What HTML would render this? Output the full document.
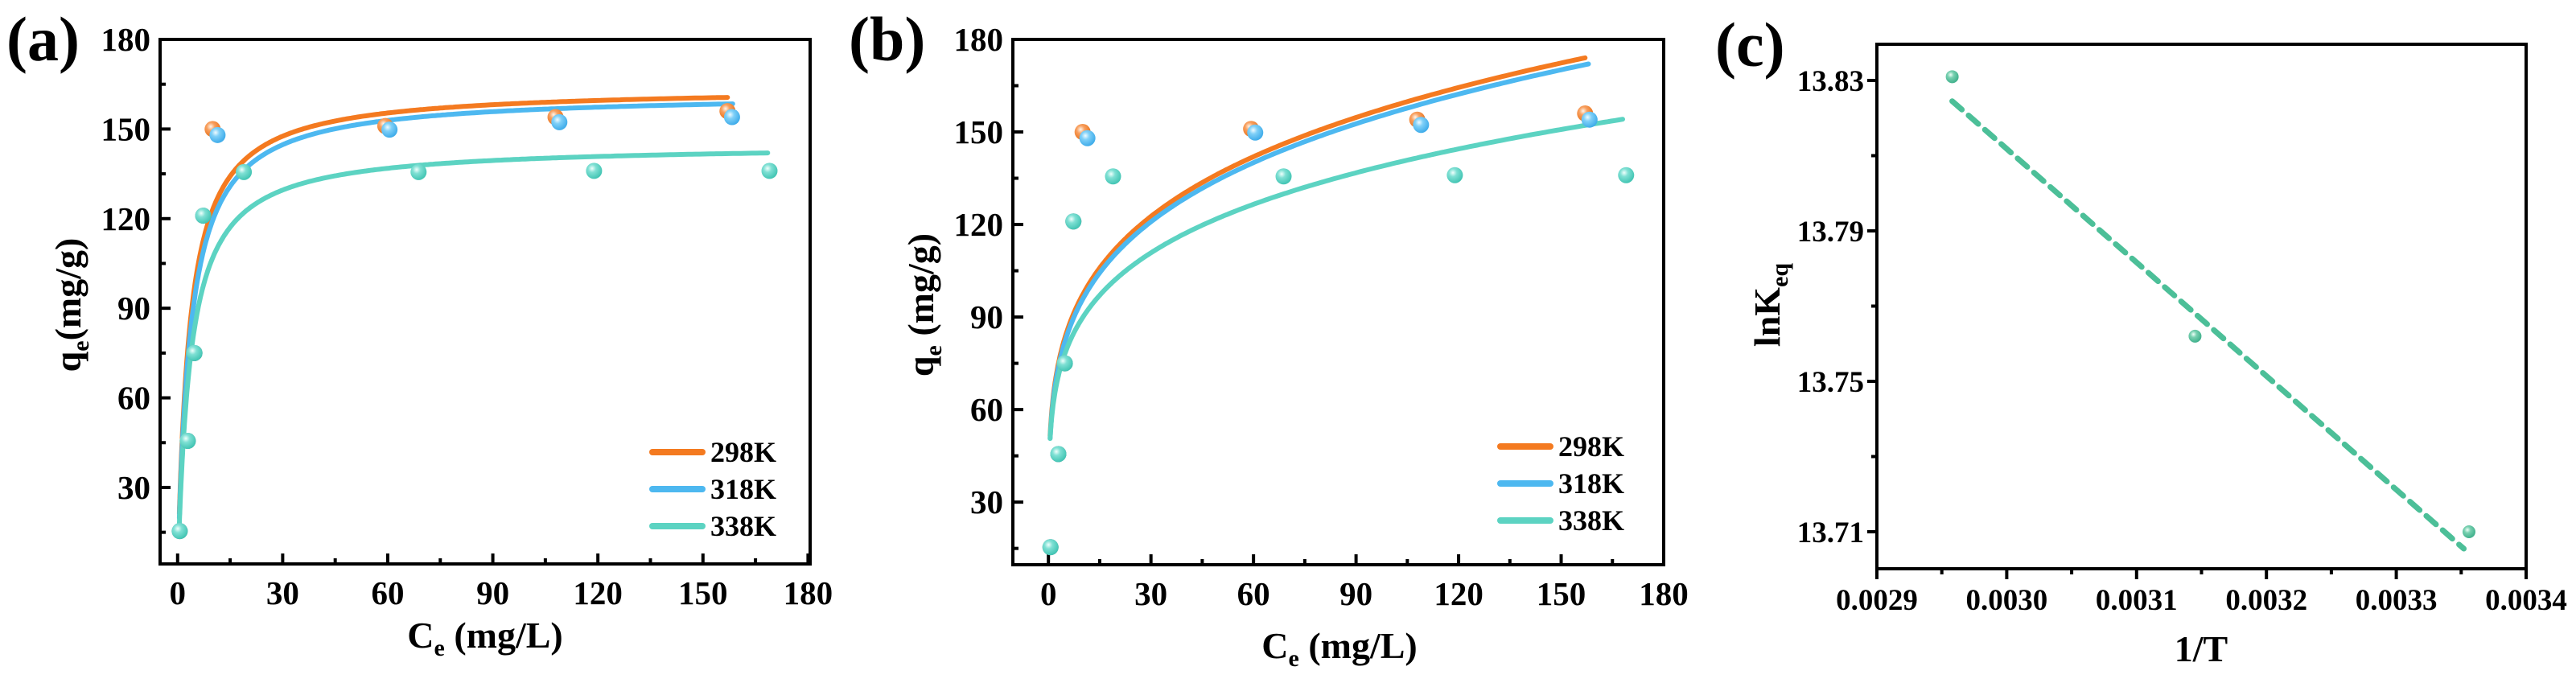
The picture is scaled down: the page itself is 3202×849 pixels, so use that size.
<!DOCTYPE html>
<html><head><meta charset="utf-8"><style>
html,body{margin:0;padding:0;background:#fff;}
svg{display:block;}
svg text{font-family:"Liberation Serif","Times New Roman",serif;font-weight:bold;}
</style></head><body>
<svg id="fig" width="3202" height="849" viewBox="0 0 3202 849" xmlns="http://www.w3.org/2000/svg" font-family="Liberation Serif, serif" font-weight="bold">
<defs>
<radialGradient id="gO" cx="0.38" cy="0.35" r="0.7"><stop offset="0" stop-color="#fff6ec"/><stop offset="0.35" stop-color="#f8a060"/><stop offset="1" stop-color="#e86c10"/></radialGradient>
<radialGradient id="gB" cx="0.38" cy="0.35" r="0.7"><stop offset="0" stop-color="#f0fbff"/><stop offset="0.35" stop-color="#7fd0f8"/><stop offset="1" stop-color="#38a8e8"/></radialGradient>
<radialGradient id="gT" cx="0.38" cy="0.35" r="0.7"><stop offset="0" stop-color="#f0fffc"/><stop offset="0.35" stop-color="#7fe0d4"/><stop offset="1" stop-color="#3cc2b0"/></radialGradient>
<radialGradient id="gG" cx="0.38" cy="0.35" r="0.7"><stop offset="0" stop-color="#effff8"/><stop offset="0.35" stop-color="#78d0b0"/><stop offset="1" stop-color="#3aad88"/></radialGradient>
</defs>
</svg>
<script>
// ---- data ----
const seriesNames = ['298K','318K','338K'];
const ceK298 = [0.6, 2.9, 4.8, 7.3, 10.0, 59.3, 107.9, 157.0];
const qeK298 = [15.4, 45.6, 75, 121, 150, 151, 154, 156];
const ceK318 = [0.6, 2.9, 4.8, 7.3, 11.4, 60.5, 109.0, 158.3];
const qeK318 = [15.4, 45.6, 75, 121, 148, 149.8, 152.3, 154];
const ceK338 = [0.6, 2.9, 4.8, 7.3, 18.9, 68.8, 118.9, 169.0];
const qeK338 = [15.4, 45.6, 75, 121, 135.6, 135.6, 136, 136];
// Langmuir fit parameters (panel a)
const langQm = [164, 162, 145];
const langKL = [0.30, 0.28, 0.28];
const langEnd = [157, 158.5, 168.5];
// Freundlich fit parameters (panel b)
const freKf = [59.7, 58.7, 57.8];
const freN1 = [0.2116, 0.2124, 0.1914];
const freEnd = [157, 158, 168];
const xTicksAB = [0, 30, 60, 90, 120, 150, 180];
const yTicksAB = [30, 60, 90, 120, 150, 180];
// panel c
const invT = [0.002958, 0.003145, 0.003356];
const lnKeq = [13.831, 13.762, 13.710];
const fitX = [0.002958, 0.003352];
const fitY = [13.8245, 13.7055];
const xTicksC = ['0.0029','0.0030','0.0031','0.0032','0.0033','0.0034'];
const yTicksC = ['13.71','13.75','13.79','13.83'];

const colors = ['#f47a20','#4db8f0','#5cd3c2'];
const grads = ['url(#gO)','url(#gB)','url(#gT)'];
const svg = document.getElementById('fig');
const NS = 'http://www.w3.org/2000/svg';
function mk(tag, attrs, parent){const e=document.createElementNS(NS,tag);for(const k in attrs)e.setAttribute(k,attrs[k]);(parent||svg).appendChild(e);return e;}
function txt(s, attrs, parent){const e=mk('text',attrs,parent);e.textContent=s;return e;}

function lin(d0,d1,p0,p1){return v=>p0+(v-d0)*(p1-p0)/(d1-d0);}

function panel(cfg){
  const g=mk('g',{});
  
  
  const X=lin(cfg.xmin,cfg.xmax,cfg.L,cfg.R), Y=lin(cfg.ymin,cfg.ymax,cfg.B,cfg.T);
  const fr=mk('rect',{x:cfg.L,y:cfg.T,width:cfg.R-cfg.L,height:cfg.B-cfg.T,fill:'none',stroke:'#000','stroke-width':4},g);
  
  
  return {g,X,Y};
}

function abPanel(cfg, curveFn, ends, params){
  const {g,X,Y}=panel(cfg);
  xTicksAB.forEach((v,i)=>{
    const x=X(v);
    const t=mk('line',{x1:x,x2:x,y1:cfg.B,y2:cfg.B-13,stroke:'#000','stroke-width':4},g);
    
    
    if(i<xTicksAB.length-1){const xm=X(v+15);const m=mk('line',{x1:xm,x2:xm,y1:cfg.B,y2:cfg.B-7,stroke:'#000','stroke-width':4},g);}
    const l=txt(String(v),{x:x,y:cfg.B+50,'font-size':41,'text-anchor':'middle'},g);
    
    
  });
  yTicksAB.forEach(v=>{
    const y=Y(v);
    const t=mk('line',{x1:cfg.L,x2:cfg.L+13,y1:y,y2:y,stroke:'#000','stroke-width':4},g);
    
    
    const ym=Y(v-15); if(ym<cfg.B){const m=mk('line',{x1:cfg.L,x2:cfg.L+7,y1:ym,y2:ym,stroke:'#000','stroke-width':4},g);}
    const l=txt(String(v),{x:cfg.L-12,y:y+14,'font-size':41,'text-anchor':'end'},g);
    
    
  });
  for(let s=0;s<3;s++){
    let d='';
    for(let i=0;i<=300;i++){const xv=0.5+(ends[s]-0.5)*Math.pow(i/300,2);const q=curveFn(s,xv);d+=(i?'L':'M')+X(xv).toFixed(1)+','+Y(q).toFixed(1);}
    const p=mk('path',{d:d,fill:'none',stroke:colors[s],'stroke-width':6,'stroke-linecap':'round'},g);
    
    
  }
  const cx=[ceK298,ceK318,ceK338], cy=[qeK298,qeK318,qeK338];
  for(let s=0;s<3;s++){
    for(let i=0;i<cx[s].length;i++){
      const c=mk('circle',{cx:X(cx[s][i]),cy:Y(cy[s][i]),r:10,fill:grads[s]},g);
      
      
    }
  }
  for(let s=0;s<3;s++){
    const y=cfg.legY+s*46;
    const ln=mk('line',{x1:cfg.legX,x2:cfg.legX+62,y1:y,y2:y,stroke:colors[s],'stroke-width':8,'stroke-linecap':'round'},g);
    
    
    const t=txt(seriesNames[s],{x:cfg.legX+72,y:y+12,'font-size':36},g);
    
    
  }
  const xt=mk('text',{x:cfg.xtX,y:cfg.xtY,'font-size':46,'text-anchor':'middle'},g);
  xt.innerHTML='C<tspan font-size="30" dy="10">e</tspan><tspan dy="-10"> (mg/L)</tspan>';
  
  
  const yt=mk('text',{transform:'translate('+cfg.ytX+','+cfg.ytY+') rotate(-90)','font-size':46,'text-anchor':'middle'},g);
  yt.innerHTML='q<tspan font-size="30" dy="10">e</tspan><tspan dy="-10">'+cfg.yunit+'</tspan>';
  
  
  const pl=txt(cfg.label,{x:cfg.labX,y:75,'font-size':78},g);
  
  
}

abPanel({name:'panel-a-langmuir',L:199,R:1007,T:49,B:701,xmin:-5,xmax:180.6,ymin:4.4,ymax:180,
  legX:811,legY:562,xtX:603,xtY:805,ytX:100,ytY:379,yunit:'(mg/g)',label:'(a)',labX:8},
  (s,x)=>langQm[s]*langKL[s]*x/(1+langKL[s]*x), langEnd);
abPanel({name:'panel-b-freundlich',L:1259,R:2068,T:49,B:702,xmin:-10.4,xmax:180,ymin:9.7,ymax:180,
  legX:1865,legY:555,xtX:1665,xtY:818,ytX:1160,ytY:379,yunit:' (mg/g)',label:'(b)',labX:1055},
  (s,x)=>freKf[s]*Math.pow(x,freN1[s]), freEnd);

(function(){
  const cfg={name:'panel-c-vant-hoff',L:2333,R:3140,T:55,B:707};
  const {g}=panel(cfg);
  const X=lin(0.0029,0.0034,cfg.L,cfg.R), Y=lin(13.71,13.83,661,100);
  xTicksC.forEach((s,i)=>{
    const x=X(parseFloat(s));
    const t=mk('line',{x1:x,x2:x,y1:cfg.B,y2:cfg.B+13,stroke:'#000','stroke-width':4},g);
    
    
    if(i<xTicksC.length-1){const xm=X(parseFloat(s)+0.00005);const m=mk('line',{x1:xm,x2:xm,y1:cfg.B,y2:cfg.B+7,stroke:'#000','stroke-width':4},g);}
    const l=txt(s,{x:x,y:758,'font-size':37,'text-anchor':'middle'},g);
    
    
  });
  yTicksC.forEach(s=>{
    const y=Y(parseFloat(s));
    const t=mk('line',{x1:cfg.L,x2:cfg.L-12,y1:y,y2:y,stroke:'#000','stroke-width':4},g);
    
    
    const ym=Y(parseFloat(s)+0.02); if(ym>cfg.T){const m=mk('line',{x1:cfg.L,x2:cfg.L-7,y1:ym,y2:ym,stroke:'#000','stroke-width':4},g);}
    const l=txt(s,{x:cfg.L-16,y:y+13,'font-size':37,'text-anchor':'end'},g);
    
    
  });
  const fl=mk('line',{x1:X(fitX[0]),y1:Y(fitY[0]),x2:X(fitX[1]),y2:Y(fitY[1]),stroke:'#4cbf98','stroke-width':7,'stroke-dasharray':'16 11','stroke-linecap':'round'},g);
  
  
  for(let i=0;i<invT.length;i++){
    const c=mk('circle',{cx:X(invT[i]),cy:Y(lnKeq[i]),r:8,fill:'url(#gG)'},g);
    
    
  }
  const xt=txt('1/T',{x:2736,y:822,'font-size':46,'text-anchor':'middle'},g);
  
  
  const yt=mk('text',{transform:'translate(2212,379) rotate(-90)','font-size':46,'text-anchor':'middle'},g);
  yt.innerHTML='lnK<tspan font-size="30" dy="10">eq</tspan>';
  
  
  const pl=txt('(c)',{x:2132,y:82,'font-size':78},g);
  
  
})();
</script>
</body></html>
